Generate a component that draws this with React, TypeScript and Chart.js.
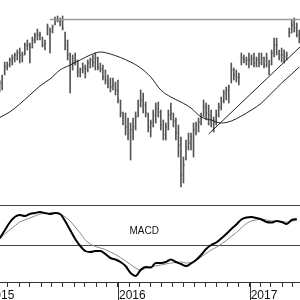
import { useEffect, useRef } from 'react';
import { Chart, registerables } from 'chart.js';

Chart.register(...registerables);

const DAY = 86400000;
const dayNum = (iso: string) =>
  Date.UTC(+iso.slice(0, 4), +iso.slice(5, 7) - 1, +iso.slice(8, 10)) / DAY;

// ---- axis range and ticks ----
const AXIS_START = '2015-02-07';
const AXIS_END = '2017-05-21';
const FIRST_WEEK = '2015-02-06'; // weekly bars, Fridays
const FIRST_TICK_MONTH = '2015-01';
const LAST_TICK_MONTH = '2017-05';
const yearTickDates = ['2015-01-01', '2016-01-01', '2017-01-01'];
const yearTickLabels = ['2015', '2016', '2017'];

// ---- weekly price bars (hidden price axis units) ----
const highs = [
  125, 130, 143, 143, 147, 150, 152, 155, 157, 153,
  162, 165, 162, 168, 172, 176, 173, 168, 165, 181,
  177, 180, 188, 189, 187, 189, 173, 165, 152, 150,
  152, 145, 137, 142, 140, 145, 147, 150, 152, 148,
  142, 140, 135, 130, 127, 127, 123, 125, 105, 93,
  92, 87, 82, 87, 93, 105, 115, 112, 103, 92,
  85, 95, 102, 103, 95, 85, 82, 95, 102, 92,
  87, 80, 68, 48, 65, 72, 72, 82, 83, 87,
  92, 105, 102, 100, 95, 88, 95, 102, 108, 115,
  118, 120, 142, 137, 135, 132, 152, 150, 148, 152,
  150, 152, 148, 152, 152, 148, 152, 145, 155, 167,
  167, 155, 157, 155, 153, 177, 185, 187, 182, 175,
];
const lows = [
  113, 115, 130, 135, 138, 140, 143, 145, 142, 143,
  150, 155, 142, 157, 162, 165, 165, 158, 155, 170,
  152, 172, 180, 183, 179, 175, 155, 145, 112, 135,
  140, 128, 128, 132, 127, 133, 137, 138, 135, 135,
  133, 125, 121, 117, 113, 115, 110, 102, 88, 80,
  70, 65, 45, 65, 75, 88, 98, 92, 88, 73,
  68, 78, 82, 88, 75, 65, 65, 75, 85, 78,
  65, 48, 18, 22, 45, 55, 55, 48, 70, 73,
  80, 88, 85, 80, 78, 73, 80, 88, 95, 102,
  105, 102, 122, 125, 123, 120, 140, 142, 140, 137,
  140, 138, 138, 138, 140, 137, 138, 130, 140, 148,
  150, 145, 143, 142, 145, 168, 172, 173, 168, 162,
];
const closes = [
  122, 127, 138, 140, 145, 147, 150, 152, 150, 150,
  160, 160, 158, 165, 170, 170, 170, 160, 162, 178,
  174, 178, 186, 185, 183, 177, 160, 150, 140, 142,
  145, 133, 135, 137, 136, 142, 145, 143, 147, 138,
  136, 128, 125, 122, 118, 120, 115, 105, 92, 88,
  78, 72, 75, 78, 88, 100, 105, 100, 92, 78,
  82, 90, 96, 93, 80, 70, 78, 90, 92, 84,
  72, 60, 30, 40, 58, 62, 68, 75, 80, 83,
  88, 98, 92, 90, 85, 82, 90, 98, 104, 112,
  115, 118, 135, 130, 128, 128, 147, 145, 145, 145,
  146, 142, 145, 142, 147, 140, 147, 140, 152, 160,
  160, 150, 150, 148, 150, 172, 180, 177, 170, 168,
];

// ---- moving average (read at these week indices) ----
const maWeeks = [
  0, 4, 8, 12, 16, 20, 24, 28, 32, 36, 40, 44, 48, 52, 56, 60,
  64, 68, 72, 76, 80, 84, 88, 92, 96, 100, 104, 108, 112, 116, 119,
];
const maValues = [
  87.5, 93, 101, 110, 119, 126, 135, 140, 145, 150, 153, 151, 147.5, 143, 137, 128,
  115, 108, 103, 97, 88, 85, 82, 84, 89, 95, 102, 112, 122, 131, 138,
];

// ---- trend / resistance lines ----
const trendDates = ['2016-09-09', '2017-05-21'];
const trendValues = [71, 158];
const resistanceDates = ['2015-06-26', '2017-05-21'];
const resistanceValues = [185.5, 185.5];

// ---- MACD (one reading every 2 weeks) ----
const MACD_STEP_WEEKS = 2;
const macdValues = [
  0.65, 1.45, 2.25, 2.8, 3.0, 2.9, 3.1, 3.2, 3.3, 3.2,
  3.1, 3.2, 3.1, 2.4, 1.5, 0.6, -0.1, -0.6, -0.7, -0.6,
  -0.6, -0.9, -1.3, -1.45, -1.7, -2.1, -2.8, -3.1, -2.5, -2.2,
  -2.25, -1.8, -1.8, -1.7, -1.45, -1.7, -1.9, -2.1, -1.85, -1.5,
  -1.0, -0.4, 0, 0.25, 0.65, 1.1, 1.6, 2.05, 2.55, 2.75,
  2.8, 2.7, 2.55, 2.3, 2.25, 2.4, 2.3, 2.1, 2.5, 2.6,
];
const signalValues = [
  0.65, 1.1, 1.5, 1.9, 2.3, 2.5, 2.7, 2.9, 3.1, 3.15,
  3.2, 3.2, 3.1, 2.8, 2.4, 1.8, 1.2, 0.5, 0.1, -0.15,
  -0.3, -0.45, -0.7, -0.95, -1.25, -1.6, -1.95, -2.3, -2.5, -2.35,
  -2.2, -2.1, -2.0, -1.9, -1.8, -1.75, -1.7, -1.8, -1.75, -1.55,
  -1.2, -0.85, -0.5, -0.25, 0.1, 0.45, 0.85, 1.25, 1.7, 2.15,
  2.4, 2.5, 2.6, 2.5, 2.4, 2.35, 2.3, 2.3, 2.4, 2.45,
];
const macdGridValues = [0, 4];
const MACD_MIN = -3.7;
const MACD_MAX = 4;
const PRICE_MIN = 0;
const PRICE_MAX = 205;
const macdLabel = 'MACD';
const macdLabelDate = '2016-02-02';
const macdLabelValue = 1.1;

const FONT = '"Liberation Sans", Arial, sans-serif';
const BAR_COLOR = '#555';

const weekDay = (i: number) => dayNum(FIRST_WEEK) + 7 * i;

function monthTicks(): number[] {
  const out: number[] = [];
  let y = +FIRST_TICK_MONTH.slice(0, 4);
  let m = +FIRST_TICK_MONTH.slice(5, 7) - 1;
  const ly = +LAST_TICK_MONTH.slice(0, 4);
  const lm = +LAST_TICK_MONTH.slice(5, 7) - 1;
  while (y < ly || (y === ly && m <= lm)) {
    out.push(Date.UTC(y, m, 1) / DAY);
    m++;
    if (m > 11) { m = 0; y++; }
  }
  return out;
}

export default function App() {
  const ref = useRef<HTMLCanvasElement | null>(null);

  useEffect(() => {
    document.body.style.margin = '0';
    const canvas = ref.current;
    if (!canvas) return;

    const yearLabelMap = new Map<number, string>();
    yearTickDates.forEach((d, i) => yearLabelMap.set(dayNum(d), yearTickLabels[i]));
    const ticks = monthTicks();

    const barData = highs.map((h, i) => ({ x: weekDay(i), y: [lows[i], h] }));
    const closeData = closes.map((c, i) => ({ x: weekDay(i), y: c }));
    const maData = maWeeks.map((w, i) => ({ x: weekDay(w), y: maValues[i] }));
    const trendData = trendDates.map((d, i) => ({ x: dayNum(d), y: trendValues[i] }));
    const resData = resistanceDates.map((d, i) => ({ x: dayNum(d), y: resistanceValues[i] }));
    const macdData = macdValues.map((v, i) => ({ x: weekDay(i * MACD_STEP_WEEKS), y: v }));
    const signalData = signalValues.map((v, i) => ({ x: weekDay(i * MACD_STEP_WEEKS), y: v }));

    const decor = {
      id: 'decor',
      afterDraw(chart: any) {
        const { ctx } = chart;
        const xs = chart.scales.x;
        const ms = chart.scales.macd;
        ctx.save();
        ctx.strokeStyle = '#333';
        ctx.lineWidth = 1;
        for (const d of yearTickDates) {
          const px = Math.round(xs.getPixelForValue(dayNum(d))) + 0.5;
          ctx.beginPath();
          ctx.moveTo(px, xs.top);
          ctx.lineTo(px, xs.bottom);
          ctx.stroke();
        }
        ctx.fillStyle = '#111';
        ctx.font = `10px ${FONT}`;
        ctx.textAlign = 'left';
        ctx.textBaseline = 'alphabetic';
        ctx.fillText(
          macdLabel,
          xs.getPixelForValue(dayNum(macdLabelDate)),
          ms.getPixelForValue(macdLabelValue)
        );
        ctx.restore();
      },
    };

    const chart = new Chart(canvas, {
      type: 'bar',
      data: {
        datasets: [
          {
            type: 'bar',
            data: barData as any,
            xAxisID: 'x',
            yAxisID: 'y',
            backgroundColor: BAR_COLOR,
            borderWidth: 0,
            barThickness: 1,
            grouped: false,
            order: 2,
          } as any,
          {
            type: 'line',
            data: closeData,
            xAxisID: 'x',
            yAxisID: 'y',
            showLine: false,
            pointStyle: 'dash',
            pointRadius: 1.2,
            pointBorderColor: BAR_COLOR,
            pointBorderWidth: 1,
            order: 2,
          } as any,
          {
            type: 'line',
            data: maData,
            xAxisID: 'x',
            yAxisID: 'y',
            borderColor: '#222',
            borderWidth: 1,
            pointRadius: 0,
            cubicInterpolationMode: 'monotone',
            order: 1,
          } as any,
          {
            type: 'line',
            data: trendData,
            xAxisID: 'x',
            yAxisID: 'y',
            borderColor: '#222',
            borderWidth: 1,
            pointRadius: 0,
            order: 1,
          } as any,
          {
            type: 'line',
            data: resData,
            xAxisID: 'x',
            yAxisID: 'y',
            borderColor: '#9a9a9a',
            borderWidth: 1.6,
            pointRadius: 0,
            order: 1,
          } as any,
          {
            type: 'line',
            data: signalData,
            xAxisID: 'x',
            yAxisID: 'macd',
            borderColor: '#8a8a8a',
            borderWidth: 1,
            pointRadius: 0,
            cubicInterpolationMode: 'monotone',
            order: 1,
          } as any,
          {
            type: 'line',
            data: macdData,
            xAxisID: 'x',
            yAxisID: 'macd',
            borderColor: '#000',
            borderWidth: 2,
            pointRadius: 0,
            cubicInterpolationMode: 'monotone',
            order: 0,
          } as any,
        ],
      },
      options: {
        animation: false,
        responsive: false,
        events: [],
        layout: { padding: 0, autoPadding: false } as any,
        plugins: { legend: { display: false }, tooltip: { enabled: false } },
        scales: {
          x: {
            type: 'linear',
            position: 'bottom',
            min: dayNum(AXIS_START),
            max: dayNum(AXIS_END),
            offset: false,
            grid: {
              offset: false,
              drawOnChartArea: false,
              drawTicks: true,
              tickLength: 5,
              tickColor: '#333',
            },
            border: { display: true, color: '#333', width: 1 },
            ticks: {
              autoSkip: false,
              maxRotation: 0,
              minRotation: 0,
              align: 'start',
              labelOffset: 1,
              padding: 1,
              color: '#111',
              font: { family: FONT, size: 12 },
              callback: (v: any) => yearLabelMap.get(Number(v)) ?? '',
            },
            afterBuildTicks: (s: any) => {
              s.ticks = ticks.map((v) => ({ value: v }));
            },
            afterFit: (s: any) => {
              s.height = 18;
              s.paddingLeft = 0;
              s.paddingRight = 0;
            },
          } as any,
          y: {
            type: 'linear',
            position: 'left',
            stack: 'panes',
            stackWeight: PRICE_MAX - PRICE_MIN,
            weight: 2,
            min: PRICE_MIN,
            max: PRICE_MAX,
            display: false,
          } as any,
          macd: {
            type: 'linear',
            position: 'left',
            stack: 'panes',
            stackWeight: 77,
            weight: 1,
            min: MACD_MIN,
            max: MACD_MAX,
            display: true,
            border: { display: false },
            grid: { drawTicks: false, color: '#444', lineWidth: 1 },
            ticks: { display: false },
            afterBuildTicks: (s: any) => {
              s.ticks = macdGridValues.map((v) => ({ value: v }));
            },
            afterFit: (s: any) => {
              s.width = 0;
              s.paddingTop = 0;
              s.paddingBottom = 0;
            },
          } as any,
        },
      },
      plugins: [decor],
    });

    return () => chart.destroy();
  }, []);

  return (
    <div style={{ position: 'fixed', left: 0, top: 0, width: 300, height: 300, background: '#fff' }}>
      <canvas ref={ref} width={300} height={300} style={{ display: 'block' }} />
    </div>
  );
}
